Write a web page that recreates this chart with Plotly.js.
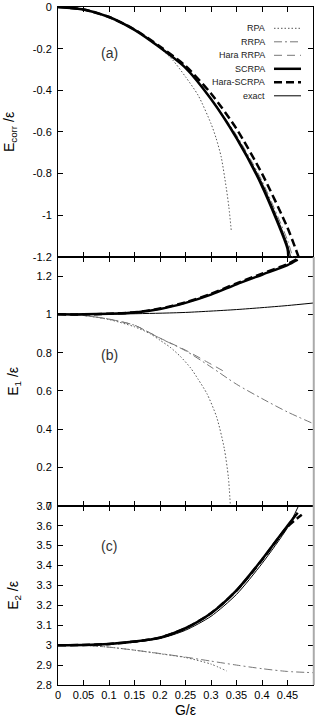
<!DOCTYPE html>
<html><head><meta charset="utf-8">
<script src="https://cdn.plot.ly/plotly-3.0.1.min.js"></script>
<style>html,body{margin:0;padding:0;background:#fff}#chart{width:320px;height:724px}</style>
</head><body><div id="chart"></div>
<script>
// ---------- Panel (a): correlation energy E_corr/eps ----------
const gA_RPA      = [0, 0.05, 0.1, 0.15, 0.2, 0.225, 0.25, 0.275, 0.3, 0.31, 0.32, 0.33, 0.335, 0.34];
const ecorrRPA    = [0, -0.012, -0.048, -0.11, -0.197, -0.255, -0.335, -0.425, -0.56, -0.63, -0.72, -0.87, -0.96, -1.08];
const gA_RRPA     = [0, 0.05, 0.1, 0.15, 0.2, 0.25, 0.3, 0.35, 0.4, 0.45, 0.46];
const ecorrRRPA   = [0, -0.012, -0.048, -0.11, -0.195, -0.29, -0.44, -0.615, -0.835, -1.12, -1.2];
const gA_HRRPA    = [0, 0.05, 0.1, 0.15, 0.2, 0.25, 0.3, 0.325];
const ecorrHRRPA  = [0, -0.012, -0.048, -0.11, -0.195, -0.29, -0.44, -0.53];
const gA_SCRPA    = [0, 0.05, 0.1, 0.15, 0.2, 0.25, 0.3, 0.35, 0.4, 0.45, 0.4515];
const ecorrSCRPA  = [0, -0.012, -0.048, -0.11, -0.195, -0.292, -0.442, -0.63, -0.86, -1.16, -1.2];
const gA_HSCRPA   = [0, 0.05, 0.1, 0.15, 0.2, 0.25, 0.3, 0.35, 0.4, 0.45, 0.4717];
const ecorrHSCRPA = [0, -0.012, -0.048, -0.108, -0.19, -0.283, -0.415, -0.585, -0.80, -1.06, -1.2];
const gA_EXACT    = [0, 0.05, 0.1, 0.15, 0.2, 0.25, 0.3, 0.35, 0.4, 0.45, 0.456];
const ecorrEXACT  = [0, -0.012, -0.048, -0.11, -0.195, -0.291, -0.44, -0.622, -0.845, -1.14, -1.2];

// ---------- Panel (b): E_1/eps ----------
const gB_RPA     = [0, 0.05, 0.1, 0.15, 0.18, 0.2, 0.22, 0.24, 0.26, 0.275, 0.292, 0.311, 0.326, 0.334, 0.338];
const e1RPA      = [1, 0.994, 0.973, 0.935, 0.9, 0.865, 0.828, 0.78, 0.72, 0.66, 0.586, 0.464, 0.30, 0.15, 0.0];
const gB_RRPA    = [0, 0.05, 0.1, 0.15, 0.2, 0.25, 0.3, 0.35, 0.4, 0.45, 0.5];
const e1RRPA     = [1, 0.994, 0.975, 0.943, 0.875, 0.81, 0.725, 0.635, 0.56, 0.49, 0.43];
const gB_HRRPA   = [0, 0.05, 0.1, 0.15, 0.2, 0.25, 0.3, 0.325];
const e1HRRPA    = [1, 0.994, 0.975, 0.943, 0.876, 0.813, 0.74, 0.703];
const gB_SCRPA   = [0, 0.05, 0.1, 0.15, 0.2, 0.25, 0.3, 0.35, 0.4, 0.45, 0.47];
const e1SCRPA    = [1, 1.0, 1.003, 1.01, 1.028, 1.06, 1.103, 1.157, 1.207, 1.257, 1.285];
const gB_HSCRPA  = [0, 0.05, 0.1, 0.15, 0.2, 0.25, 0.3, 0.35, 0.4, 0.45, 0.472];
const e1HSCRPA   = [1, 1.0, 1.003, 1.011, 1.03, 1.063, 1.107, 1.162, 1.213, 1.263, 1.293];
const gB_EXACT   = [0, 0.1, 0.2, 0.25, 0.3, 0.35, 0.4, 0.45, 0.5];
const e1EXACT    = [1, 1.001, 1.006, 1.01, 1.017, 1.025, 1.035, 1.046, 1.059];

// ---------- Panel (c): E_2/eps ----------
const gC_RPA     = [0, 0.05, 0.1, 0.15, 0.2, 0.25, 0.3, 0.331];
const e2RPA      = [3, 2.999, 2.99, 2.975, 2.957, 2.938, 2.905, 2.87];
const gC_RRPA    = [0, 0.05, 0.1, 0.15, 0.2, 0.25, 0.3, 0.35, 0.4, 0.45, 0.5];
const e2RRPA     = [3, 2.999, 2.99, 2.975, 2.958, 2.94, 2.92, 2.9, 2.882, 2.868, 2.862];
const gC_SCRPA   = [0, 0.05, 0.1, 0.15, 0.2, 0.25, 0.3, 0.35, 0.4, 0.45, 0.47];
const e2SCRPA    = [3, 3.001, 3.006, 3.018, 3.038, 3.085, 3.16, 3.275, 3.43, 3.60, 3.665];
const gC_HSCRPA  = [0, 0.05, 0.1, 0.15, 0.2, 0.25, 0.3, 0.35, 0.4, 0.45, 0.478];
const e2HSCRPA   = [3, 3.001, 3.006, 3.018, 3.038, 3.085, 3.16, 3.274, 3.428, 3.595, 3.655];
const gC_EXACT   = [0, 0.05, 0.1, 0.15, 0.2, 0.25, 0.3, 0.35, 0.4, 0.45, 0.4717];
const e2EXACT    = [3, 3.001, 3.005, 3.015, 3.033, 3.075, 3.145, 3.255, 3.41, 3.59, 3.7];

// ---------- labels ----------
const legendNames = ['RPA', 'RRPA', 'Hara RRPA', 'SCRPA', 'Hara-SCRPA', 'exact'];
const xTickVals = [0, 0.05, 0.1, 0.15, 0.2, 0.25, 0.3, 0.35, 0.4, 0.45, 0.5];
const xTickText = ['0', '0.05', '0.1', '0.15', '0.2', '0.25', '0.3', '0.35', '0.4', '0.45', '0.5'];
const yTickValsA = [0, -0.2, -0.4, -0.6, -0.8, -1, -1.2];
const yTickTextA = ['0', '-0.2', '-0.4', '-0.6', '-0.8', '-1', '-1.2'];
const yTickValsB = [0, 0.2, 0.4, 0.6, 0.8, 1, 1.2];
const yTickTextB = ['0', '0.2', '0.4', '0.6', '0.8', '1', '1.2'];
const yTickValsC = [2.8, 2.9, 3, 3.1, 3.2, 3.3, 3.4, 3.5, 3.6, 3.7];
const yTickTextC = ['2.8', '2.9', '3', '3.1', '3.2', '3.3', '3.4', '3.5', '3.6', '3.7'];

// ---------- styles ----------
const FONT = 'Liberation Sans, Arial, Helvetica, sans-serif';
const styles = [
  {color: '#555', width: 1, dash: '1.5px,2px'},
  {color: '#777', width: 1, dash: '8px,3px,2px,3px'},
  {color: '#777', width: 1, dash: '8px,5px'},
  {color: '#000', width: 2.5, dash: 'solid'},
  {color: '#000', width: 2.5, dash: '8px,4px'},
  {color: '#000', width: 1, dash: 'solid'}
];

function tr(x, y, idx, xa, ya) {
  return {x: x, y: y, type: 'scatter', mode: 'lines', name: legendNames[idx],
    xaxis: xa, yaxis: ya, showlegend: false, hoverinfo: 'skip',
    line: Object.assign({shape: 'spline', smoothing: 0.7}, styles[idx])};
}

const data = [
  // panel a
  tr(gA_RPA, ecorrRPA, 0, 'x3', 'y3'),
  tr(gA_RRPA, ecorrRRPA, 1, 'x3', 'y3'),
  tr(gA_HRRPA, ecorrHRRPA, 2, 'x3', 'y3'),
  tr(gA_EXACT, ecorrEXACT, 5, 'x3', 'y3'),
  tr(gA_SCRPA, ecorrSCRPA, 3, 'x3', 'y3'),
  tr(gA_HSCRPA, ecorrHSCRPA, 4, 'x3', 'y3'),
  // panel b
  tr(gB_RPA, e1RPA, 0, 'x2', 'y2'),
  tr(gB_RRPA, e1RRPA, 1, 'x2', 'y2'),
  tr(gB_HRRPA, e1HRRPA, 2, 'x2', 'y2'),
  tr(gB_EXACT, e1EXACT, 5, 'x2', 'y2'),
  tr(gB_SCRPA, e1SCRPA, 3, 'x2', 'y2'),
  tr(gB_HSCRPA, e1HSCRPA, 4, 'x2', 'y2'),
  // panel c
  tr(gC_RPA, e2RPA, 0, 'x', 'y'),
  tr(gC_RRPA, e2RRPA, 1, 'x', 'y'),
  tr(gC_EXACT, e2EXACT, 5, 'x', 'y'),
  tr(gC_SCRPA, e2SCRPA, 3, 'x', 'y'),
  tr(gC_HSCRPA, e2HSCRPA, 4, 'x', 'y')
];

// plot area geometry (pixels)
const W = 320, H = 724, L = 58, R = 7, T = 7, B = 39;
const PW = W - L - R, PH = H - T - B;
const dC = [0, 0.2643], dB = [0.2643, 0.6314], dA = [0.6314, 1];
const px2x = p => (p - L) / PW;
const py2y = p => (H - B - p) / PH;

const xBase = {range: [0, 0.5], tickvals: xTickVals, ticktext: xTickText, ticks: 'inside', ticklen: 5,
  tickcolor: '#000', showline: true, linecolor: '#000', linewidth: 1, mirror: 'ticks',
  showgrid: false, zeroline: false, fixedrange: true,
  tickfont: {family: FONT, size: 11, color: '#000'}};
const yBase = {ticks: 'inside', ticklen: 5, tickcolor: '#000', showline: true, linecolor: '#000',
  linewidth: 1, mirror: 'ticks', showgrid: false, zeroline: false, fixedrange: true,
  tickfont: {family: FONT, size: 11, color: '#000'}, ticklabelstandoff: 3};

const annotations = [];
const shapes = [];
// legend (text right-aligned, sample line at right)
const legRows = [28.3, 41.8, 55.3, 68.8, 82.3, 95.8];
legendNames.forEach((n, i) => {
  annotations.push({xref: 'paper', yref: 'paper', x: px2x(267), y: py2y(legRows[i]),
    xanchor: 'right', yanchor: 'middle', text: n, showarrow: false,
    font: {family: FONT, size: 9, color: '#222'}});
  shapes.push({type: 'line', xref: 'paper', yref: 'paper', x0: px2x(274), x1: px2x(301),
    y0: py2y(legRows[i]), y1: py2y(legRows[i]), line: styles[i]});
});
// panel labels
[['(a)', 53], ['(b)', 355], ['(c)', 546]].forEach(([t, py]) => {
  annotations.push({xref: 'paper', yref: 'paper', x: px2x(109), y: py2y(py), xanchor: 'center',
    yanchor: 'middle', text: t, showarrow: false, font: {family: FONT, size: 14, color: '#333'}});
});
// grey right border of lower panels
shapes.push({type: 'line', xref: 'paper', yref: 'paper', x0: 1.003, x1: 1.003, y0: 0, y1: dB[1],
  line: {color: '#aaa', width: 2}});

const layout = {
  width: W, height: H, margin: {l: L, r: R, t: T, b: B},
  paper_bgcolor: '#fff', plot_bgcolor: '#fff', showlegend: false,
  font: {family: FONT, color: '#000'},
  xaxis: Object.assign({}, xBase, {anchor: 'y', domain: [0, 1],
    title: {text: 'G/ε', font: {family: FONT, size: 14, color: '#000'}, standoff: 4}}),
  xaxis2: Object.assign({}, xBase, {anchor: 'y2', domain: [0, 1], showticklabels: false}),
  xaxis3: Object.assign({}, xBase, {anchor: 'y3', domain: [0, 1], showticklabels: false}),
  yaxis: Object.assign({}, yBase, {anchor: 'x', domain: dC, range: [2.8, 3.7],
    tickvals: yTickValsC, ticktext: yTickTextC,
    title: {text: 'E<sub>2</sub> /ε', font: {family: FONT, size: 14, color: '#000'}, standoff: 14}}),
  yaxis2: Object.assign({}, yBase, {anchor: 'x2', domain: dB, range: [0, 1.3],
    tickvals: yTickValsB, ticktext: yTickTextB,
    title: {text: 'E<sub>1</sub> /ε', font: {family: FONT, size: 14, color: '#000'}, standoff: 14}}),
  yaxis3: Object.assign({}, yBase, {anchor: 'x3', domain: dA, range: [-1.2, 0],
    tickvals: yTickValsA, ticktext: yTickTextA,
    title: {text: 'E<sub>corr</sub> /ε', font: {family: FONT, size: 14, color: '#000'}, standoff: 14}}),
  annotations: annotations,
  shapes: shapes
};

Plotly.newPlot('chart', data, layout, {displayModeBar: false, staticPlot: true});
</script>
</body></html>
